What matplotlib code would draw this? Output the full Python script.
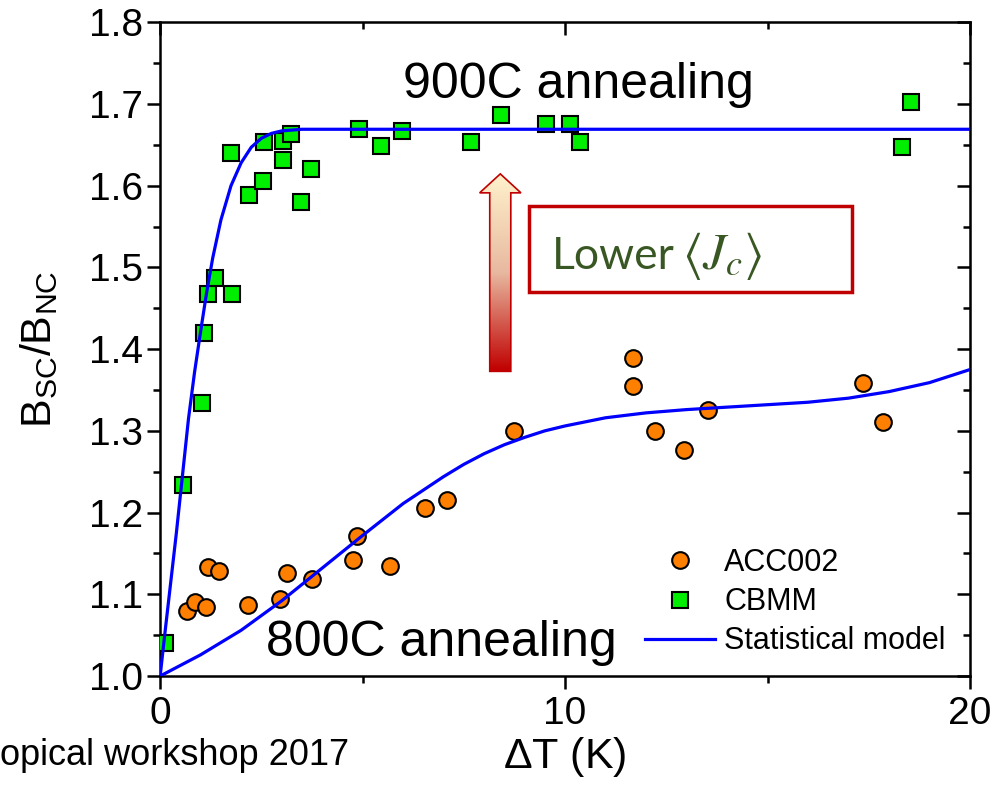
import numpy as np
import matplotlib
matplotlib.use('Agg')
import matplotlib.pyplot as plt
from matplotlib.patches import Polygon, Rectangle
from matplotlib.colors import LinearSegmentedColormap
from matplotlib.ticker import FormatStrFormatter, MultipleLocator

plt.rcParams['font.family'] = ['Liberation Sans', 'DejaVu Sans']
plt.rcParams['mathtext.default'] = 'regular'

# ACC002 (800C annealing)
acc_x = [0.67, 0.87, 1.14, 1.18, 1.46, 2.16, 2.95, 3.14, 3.74, 4.76, 4.87, 5.67,
         6.54, 7.08, 8.75, 11.69, 11.69, 12.22, 12.94, 13.54, 17.37, 17.84]
acc_y = [1.079, 1.091, 1.085, 1.134, 1.129, 1.087, 1.094, 1.126, 1.119, 1.142, 1.171, 1.135,
         1.205, 1.215, 1.300, 1.389, 1.355, 1.300, 1.276, 1.325, 1.358, 1.311]

# CBMM (900C annealing)
cbmm_x = [0.13, 0.57, 1.03, 1.08, 1.19, 1.35, 1.78, 1.75, 2.2, 2.54, 2.57, 3.04, 3.04,
          3.24, 3.48, 3.73, 4.91, 5.46, 5.98, 7.68, 8.42, 9.53, 10.12, 10.37, 18.32, 18.54]
cbmm_y = [1.041, 1.234, 1.334, 1.420, 1.467, 1.487, 1.467, 1.640, 1.589, 1.606, 1.654,
          1.632, 1.655, 1.663, 1.580, 1.620, 1.669, 1.648, 1.667, 1.654, 1.687, 1.675,
          1.676, 1.654, 1.647, 1.702]

# statistical model curves
model900_x = [0, 0.1, 0.25, 0.4, 0.55, 0.7, 0.85, 1.0, 1.15, 1.3, 1.5, 1.75, 2.0,
              2.25, 2.5, 2.75, 3.0, 3.5, 4.0, 5.0, 20.0]
model900_y = [1.0, 1.045, 1.11, 1.175, 1.245, 1.315, 1.372, 1.422, 1.470, 1.512, 1.558,
              1.600, 1.628, 1.647, 1.658, 1.664, 1.667, 1.669, 1.669, 1.669, 1.669]
model800_x = [0, 1, 2, 3, 4, 5, 6, 7, 7.5, 8, 8.5, 9, 9.5, 10, 11, 12, 13, 14, 15,
              16, 17, 18, 19, 20]
model800_y = [1.0, 1.026, 1.056, 1.092, 1.132, 1.172, 1.211, 1.244, 1.259, 1.272, 1.283,
              1.292, 1.300, 1.306, 1.316, 1.322, 1.326, 1.329, 1.332, 1.335, 1.340,
              1.348, 1.359, 1.375]

fig = plt.figure(figsize=(10.01, 7.93), dpi=100)
ax = fig.add_axes([0.160, 0.1475, 0.809, 0.8245])

l1, = ax.plot(model800_x, model800_y, color='#0000ff', lw=2.3, zorder=4, label='Statistical model')
ax.plot(model900_x, model900_y, color='#0000ff', lw=2.3, zorder=4)
p1, = ax.plot(acc_x, acc_y, 'o', ms=12, mfc='#ff8000', mec='black', mew=1.5,
              zorder=3, label='ACC002')
p2, = ax.plot(cbmm_x, cbmm_y, 's', ms=11, mfc='#00ee00', mec='black', mew=1.5,
              zorder=3, label='CBMM')

ax.set_xlim(0, 20)
ax.set_ylim(1.0, 1.8)
ax.set_xticks([0, 10, 20])
ax.xaxis.set_minor_locator(MultipleLocator(5))
ax.set_yticks(np.arange(1.0, 1.81, 0.1))
ax.yaxis.set_minor_locator(MultipleLocator(0.05))
ax.yaxis.set_major_formatter(FormatStrFormatter('%.1f'))
ax.tick_params(which='major', direction='out', length=9.5, width=1.8, labelsize=28)
ax.tick_params(axis='y', which='major', pad=3)
ax.tick_params(axis='x', which='major', pad=5)
ax.tick_params(which='minor', direction='out', length=5, width=1.8)
for s in ax.spines.values():
    s.set_linewidth(1.8)

# inward ticks on the top and right sides
top = ax.secondary_xaxis('top')
top.set_xticks([0, 10, 20])
top.xaxis.set_minor_locator(MultipleLocator(5))
top.tick_params(which='major', direction='in', length=9.5, width=1.8, labeltop=False)
top.tick_params(which='minor', direction='in', length=5, width=1.8)
right = ax.secondary_yaxis('right')
right.set_yticks(np.arange(1.0, 1.81, 0.1))
right.yaxis.set_minor_locator(MultipleLocator(0.05))
right.tick_params(which='major', direction='in', length=9.5, width=1.8, labelright=False)
right.tick_params(which='minor', direction='in', length=5, width=1.8)

ax.set_xlabel(r'$\Delta$T (K)', fontsize=31)
ax.xaxis.set_label_coords(0.5, -0.09)
ax.set_ylabel('B$_{SC}$/B$_{NC}$', fontsize=31)
ax.yaxis.set_label_coords(-0.123, 0.5)

ax.text(6.0, 1.707, '900C annealing', fontsize=36, ha='left', va='baseline')
ax.text(2.62, 1.024, '800C annealing', fontsize=36, ha='left', va='baseline', zorder=2)

ax.legend(handles=[p1, p2, l1], loc='lower right', bbox_to_anchor=(0.97, 0.03),
          frameon=False, fontsize=22, handlelength=2.3, handletextpad=0.3,
          labelspacing=0.3, borderaxespad=0, borderpad=0)

# gradient arrow
cx, hw, hh = 0.42, 0.013, 0.0255
yb, yh, yt = 0.466, 0.739, 0.768
arrow = Polygon([[cx - hw, yb], [cx + hw, yb], [cx + hw, yh], [cx + hh, yh],
                 [cx, yt], [cx - hh, yh], [cx - hw, yh]], closed=True,
                transform=ax.transAxes, facecolor='none', edgecolor='#c00000',
                lw=1.2, zorder=5)
ax.add_patch(arrow)
cmap = LinearSegmentedColormap.from_list('arr', ['#c00000', '#e8b9a0', '#fff2cc'])
grad = np.linspace(0, 1, 256).reshape(-1, 1)
im = ax.imshow(grad, cmap=cmap, origin='lower', aspect='auto', transform=ax.transAxes,
               extent=[cx - hh, cx + hh, yb, yt], zorder=4)
im.set_clip_path(arrow)
ax.set_xlim(0, 20)
ax.set_ylim(1.0, 1.8)

# boxed label
ax.add_patch(Rectangle((0.456, 0.588), 0.398, 0.131, transform=ax.transAxes,
                       facecolor='white', edgecolor='#c00000', lw=2.5, zorder=5))
ax.text(0.484, 0.622, 'Lower', transform=ax.transAxes,
        fontsize=32, color='#385723', family='Lato',
        ha='left', va='baseline', zorder=6)
ax.text(0.645, 0.622, r'$\langle \mathit{J_c} \rangle$', transform=ax.transAxes,
        fontsize=37, color='#385723', math_fontfamily='stix',
        ha='left', va='baseline', zorder=6)

fig.text(0.0, 0.035, 'opical workshop 2017', fontsize=26, ha='left', va='baseline')

fig.savefig('out.png', dpi=100)
